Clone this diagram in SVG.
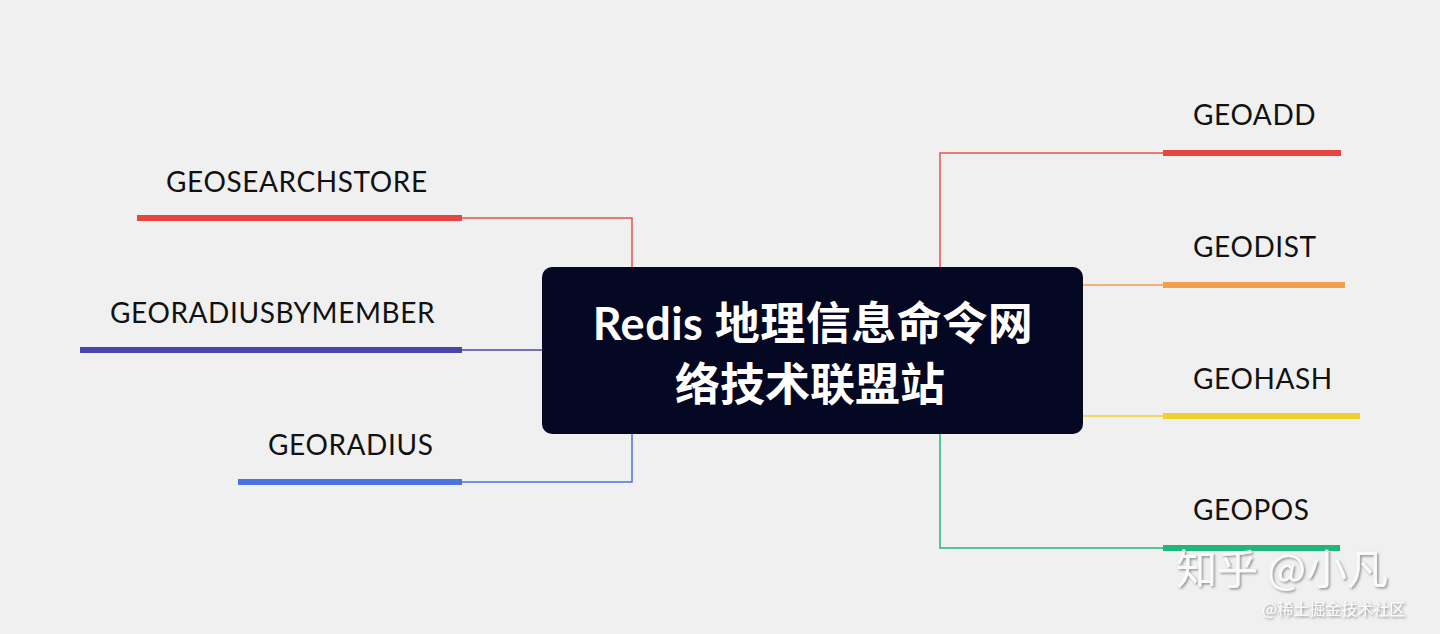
<svg xmlns="http://www.w3.org/2000/svg" width="1440" height="634" viewBox="0 0 1440 634">
<style>
.lbl{font-family:Lato,"Open Sans","Liberation Sans",sans-serif;font-size:28px;letter-spacing:0.6px;fill:#111;}
.thin{fill:none;stroke-width:1.5;}
.bar{stroke-width:6;stroke-linecap:butt;}
.title{font-family:Lato,"Noto Sans CJK SC",sans-serif;font-size:45px;font-weight:bold;fill:#fff;text-anchor:middle;}
.wm{font-family:"Noto Sans CJK SC",sans-serif;fill:#fafafa;}
</style>
<defs>
<filter id="sh" x="-10%" y="-10%" width="130%" height="140%"><feDropShadow dx="1.5" dy="1.5" stdDeviation="1" flood-color="#555" flood-opacity="0.6"/></filter>
</defs>
<rect width="1440" height="634" fill="#f0f0f0"/>
<g id="connectors">
<polyline class="thin" stroke="#e8504a" points="462,218 632,218 632,267"/>
<line class="thin" stroke="#4a45a8" x1="462" y1="350" x2="542" y2="350"/>
<polyline class="thin" stroke="#4a72e0" points="462,482 632,482 632,434"/>
<polyline class="thin" stroke="#e8504a" points="940,267 940,153 1163,153"/>
<line class="thin" stroke="#f0a050" x1="1083" y1="285" x2="1163" y2="285"/>
<line class="thin" stroke="#f0d030" x1="1083" y1="416" x2="1163" y2="416"/>
<polyline class="thin" stroke="#20b878" points="940,434 940,548 1163,548"/>
</g>
<g id="center">
<rect x="542" y="267" width="541" height="167" rx="10" fill="#050822"/>
<text class="title" x="813" y="340" letter-spacing="0.5">Redis 地理信息命令网</text>
<text class="title" x="810" y="401">络技术联盟站</text>
</g>
<g id="geosearchstore">
<line class="bar" stroke="#e84540" x1="137" y1="218" x2="462" y2="218"/>
<text class="lbl" x="166" y="192">GEOSEARCHSTORE</text>
</g>
<g id="georadiusbymember">
<line class="bar" stroke="#4a45a8" x1="80" y1="350" x2="462" y2="350"/>
<text class="lbl" x="110" y="323">GEORADIUSBYMEMBER</text>
</g>
<g id="georadius">
<line class="bar" stroke="#4a72e0" x1="238" y1="482" x2="462" y2="482"/>
<text class="lbl" x="268" y="455">GEORADIUS</text>
</g>
<g id="geoadd">
<line class="bar" stroke="#e84540" x1="1163" y1="153" x2="1341" y2="153"/>
<text class="lbl" x="1193" y="125">GEOADD</text>
</g>
<g id="geodist">
<line class="bar" stroke="#f0a050" x1="1163" y1="285" x2="1345" y2="285"/>
<text class="lbl" x="1193" y="257">GEODIST</text>
</g>
<g id="geohash">
<line class="bar" stroke="#f0d030" x1="1163" y1="416" x2="1360" y2="416"/>
<text class="lbl" x="1193" y="389">GEOHASH</text>
</g>
<g id="geopos">
<line class="bar" stroke="#20b878" x1="1163" y1="548" x2="1340" y2="548"/>
<text class="lbl" x="1193" y="520">GEOPOS</text>
</g>
<g id="watermark" filter="url(#sh)">
<text class="wm" x="1176" y="584" font-size="41">知乎 @小凡</text>
<text class="wm" x="1262" y="615" font-size="16">@稀土掘金技术社区</text>
</g>
</svg>
